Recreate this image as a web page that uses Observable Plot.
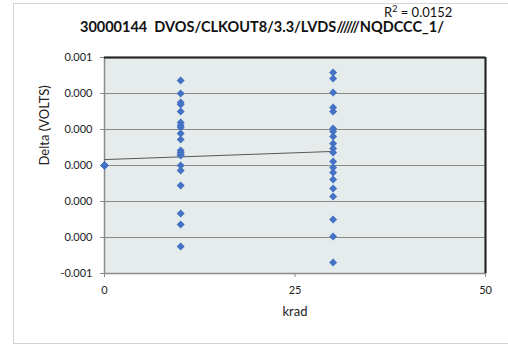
<!DOCTYPE html>
<html><head><meta charset="utf-8">
<script src="https://cdn.jsdelivr.net/npm/d3@7"></script>
<script src="https://cdn.jsdelivr.net/npm/@observablehq/plot@0.6"></script>
<style>
body{margin:0;background:#fff;}
#wrap{position:relative;width:508px;height:345px;overflow:hidden;font-family:Lato,"Open Sans",sans-serif;color:#111;}
#border{position:absolute;left:13px;top:3px;width:530px;height:341px;border:1px solid #d4d4d4;box-sizing:border-box;}
#title{position:absolute;left:0;width:524px;text-align:center;top:18px;font-weight:bold;font-size:14.5px;white-space:pre;}
#r2{position:absolute;left:384px;top:3px;font-size:13px;white-space:nowrap;}
#chart svg{position:absolute;left:0;top:0;}
</style></head>
<body>
<div id="wrap">
  <div id="border"></div>
  <div id="chart"></div>
  <div id="title"></div>
  <div id="r2"></div>
</div>
<script>
const titleText = "30000144  DVOS/CLKOUT8/3.3/LVDS//////NQDCCC_1/";
const r2Text = "R² = 0.0152";
const xLabel = "krad";
const yLabel = "Delta (VOLTS)";

const xTicks = [0, 25, 50];
const yTicks = [-0.0006, -0.0004, -0.0002, 0, 0.0002, 0.0004, 0.0006];
const yTickLabels = ["-0.001", "0.000", "0.000", "0.000", "0.000", "0.000", "0.001"];

// Delta values at each dose (krad)
const delta0 = [0,0,0,0,0,0,0,0,0,0,0,0,0,0,0,0,0,0,0,0];
const delta10 = [0.000472, 0.000400, 0.000350, 0.000339, 0.000300, 0.000239, 0.000222, 0.000211,
  0.000178, 0.000144, 0.0000833, 0.0000722, 0.0000611, 0.0000556, 0.0, -0.0000278,
  -0.000111, -0.000267, -0.000328, -0.000450];
const delta30 = [0.000517, 0.000483, 0.000406, 0.000322, 0.000300, 0.000206, 0.000189, 0.000161,
  0.000122, 0.0000944, 0.0000722, 0.0000222, -0.0000111, -0.0000389, -0.0000778, -0.000128,
  -0.000172, -0.000300, -0.000394, -0.000539];

const data = [
  ...delta0.map(v => ({krad: 0, delta: v})),
  ...delta10.map(v => ({krad: 10, delta: v})),
  ...delta30.map(v => ({krad: 30, delta: v}))
];

document.getElementById("title").textContent = titleText;
document.getElementById("r2").innerHTML = "R<sup style='font-size:9px'>2</sup> = 0.0152";

const chart = Plot.plot({
  width: 508, height: 345,
  marginLeft: 104, marginRight: 23, marginTop: 57, marginBottom: 72,
  x: {domain: [xTicks[0], xTicks[xTicks.length - 1]]},
  y: {domain: [yTicks[0], yTicks[yTicks.length - 1]]},
  style: {fontFamily: 'Lato, "Open Sans", sans-serif', fontSize: "11px", color: "#222", background: "transparent"},
  marks: [
    Plot.frame({fill: "#e6ebeb", stroke: null}),
    Plot.gridY(yTicks, {stroke: "#8a8a8a", strokeOpacity: 1, strokeWidth: 1}),
    Plot.axisY(yTicks, {tickFormat: d => yTickLabels[yTicks.indexOf(d)], tickSize: 4, tickPadding: 8, label: null, stroke: "#888"}),
    Plot.axisX(xTicks, {tickSize: 4, tickPadding: 9, label: null, stroke: "#888"}),
    Plot.frame({stroke: "#8a8a8a", strokeWidth: 1.5}),
    Plot.ruleY([yTicks[yTicks.length - 1]], {stroke: "#222", strokeWidth: 2}),
    Plot.ruleX([xTicks[xTicks.length - 1]], {stroke: "#222", strokeWidth: 2}),
    Plot.linearRegressionY(data, {x: "krad", y: "delta", ci: 0, stroke: "#595959", strokeWidth: 1}),
    Plot.dot(data, {x: "krad", y: "delta", symbol: "diamond2", r: 3.6, fill: "#4472C4", stroke: null}),
    Plot.text([yLabel], {frameAnchor: "left", rotate: -90, dx: -60, fontSize: 13, fill: "#222"}),
    Plot.text([xLabel], {frameAnchor: "bottom", dy: 42, fontSize: 13, fill: "#222"})
  ]
});
document.getElementById("chart").appendChild(chart);
</script>
</body></html>
